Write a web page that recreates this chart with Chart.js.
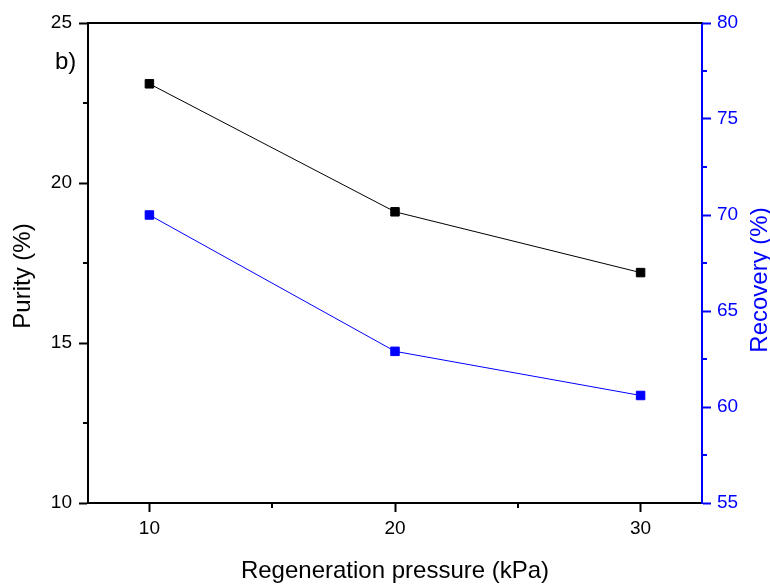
<!DOCTYPE html>
<html>
<head>
<meta charset="utf-8">
<script src="https://cdn.jsdelivr.net/npm/chart.js@4.4.1/dist/chart.umd.min.js"></script>
<style>
  body { margin: 0; background: #fff; }
  #wrap { width: 770px; height: 585px; }
</style>
</head>
<body>
<div id="wrap"><canvas id="purityChart"></canvas></div>
<script>
const pressures = [10, 20, 30];
const purity = [23.1, 19.1, 17.2];
const recovery = [70.0, 62.9, 60.6];
const xTicks = [10, 20, 30];
const xMinor = [15, 25];
const purityTicks = [10, 15, 20, 25];
const purityMinor = [12.5, 17.5, 22.5];
const recoveryTicks = [55, 60, 65, 70, 75, 80];
const recoveryMinor = [57.5, 62.5, 67.5, 72.5, 77.5];

const FONT = "'Liberation Sans', Arial, sans-serif";
const BLUE = '#0000ff';

// titles, panel label, top frame line and minor ticks
const decorPlugin = {
  id: 'decor',
  afterDraw(chart) {
    const ctx = chart.ctx;
    const area = chart.chartArea;
    const sx = chart.scales.x, sy = chart.scales.y, sy1 = chart.scales.y1;
    ctx.save();
    ctx.lineWidth = 2;
    ctx.strokeStyle = '#000';
    ctx.beginPath();
    ctx.moveTo(area.left - 1, area.top);
    ctx.lineTo(area.right, area.top);
    ctx.stroke();

    xMinor.forEach(v => {
      const px = Math.round(sx.getPixelForValue(v));
      ctx.beginPath();
      ctx.moveTo(px, area.bottom);
      ctx.lineTo(px, area.bottom + 5);
      ctx.stroke();
    });
    purityMinor.forEach(v => {
      const py = Math.round(sy.getPixelForValue(v));
      ctx.beginPath();
      ctx.moveTo(area.left, py);
      ctx.lineTo(area.left - 5, py);
      ctx.stroke();
    });
    ctx.strokeStyle = BLUE;
    recoveryMinor.forEach(v => {
      const py = Math.round(sy1.getPixelForValue(v));
      ctx.beginPath();
      ctx.moveTo(area.right, py);
      ctx.lineTo(area.right + 5, py);
      ctx.stroke();
    });

    ctx.fillStyle = '#000';
    ctx.font = '24px ' + FONT;
    ctx.textAlign = 'center';
    ctx.textBaseline = 'alphabetic';
    ctx.fillText('Regeneration pressure (kPa)', (area.left + area.right) / 2, 578);

    ctx.save();
    ctx.translate(30, 276);
    ctx.rotate(-Math.PI / 2);
    ctx.fillText('Purity (%)', 0, 0);
    ctx.restore();

    ctx.save();
    ctx.fillStyle = BLUE;
    ctx.translate(767, 280);
    ctx.rotate(-Math.PI / 2);
    ctx.fillText('Recovery (%)', 0, 0);
    ctx.restore();

    ctx.font = '24px ' + FONT;
    ctx.textAlign = 'left';
    ctx.fillText('b)', 55, 69);
    ctx.restore();
  }
};

new Chart(document.getElementById('purityChart'), {
  type: 'line',
  data: {
    datasets: [
      {
        label: 'Purity',
        data: pressures.map((p, i) => ({ x: p, y: purity[i] })),
        yAxisID: 'y',
        borderColor: '#000',
        backgroundColor: '#000',
        borderWidth: 1,
        pointStyle: 'rect',
        pointRadius: 6,
        pointBorderWidth: 1
      },
      {
        label: 'Recovery',
        data: pressures.map((p, i) => ({ x: p, y: recovery[i] })),
        yAxisID: 'y1',
        borderColor: BLUE,
        backgroundColor: BLUE,
        borderWidth: 1,
        pointStyle: 'rect',
        pointRadius: 6,
        pointBorderWidth: 1
      }
    ]
  },
  options: {
    responsive: true,
    maintainAspectRatio: false,
    animation: false,
    layout: { padding: { top: 23, left: 0, right: 0, bottom: 0 } },
    plugins: {
      legend: { display: false },
      tooltip: { enabled: false }
    },
    scales: {
      x: {
        type: 'linear',
        min: 7.5,
        max: 32.5,
        afterBuildTicks: scale => { scale.ticks = xTicks.map(v => ({ value: v })); },
        afterFit: scale => { scale.height = 82; },
        grid: { drawOnChartArea: false, tickLength: 9, tickWidth: 2, tickColor: '#000' },
        border: { color: '#000', width: 2 },
        ticks: { color: '#000', font: { family: FONT, size: 19 }, padding: 5, maxRotation: 0 }
      },
      y: {
        position: 'left',
        min: 10,
        max: 25,
        afterBuildTicks: scale => { scale.ticks = purityTicks.map(v => ({ value: v })); },
        afterFit: scale => { scale.width = 88; },
        grid: { drawOnChartArea: false, tickLength: 9, tickWidth: 2, tickColor: '#000' },
        border: { color: '#000', width: 2 },
        ticks: { color: '#000', font: { family: FONT, size: 19 }, padding: 7 }
      },
      y1: {
        position: 'right',
        min: 55,
        max: 80,
        afterBuildTicks: scale => { scale.ticks = recoveryTicks.map(v => ({ value: v })); },
        afterFit: scale => { scale.width = 68; },
        grid: { drawOnChartArea: false, tickLength: 9, tickWidth: 2, tickColor: BLUE },
        border: { color: BLUE, width: 2 },
        ticks: { color: BLUE, font: { family: FONT, size: 19 }, padding: 6 }
      }
    }
  },
  plugins: [decorPlugin]
});
</script>
</body>
</html>
